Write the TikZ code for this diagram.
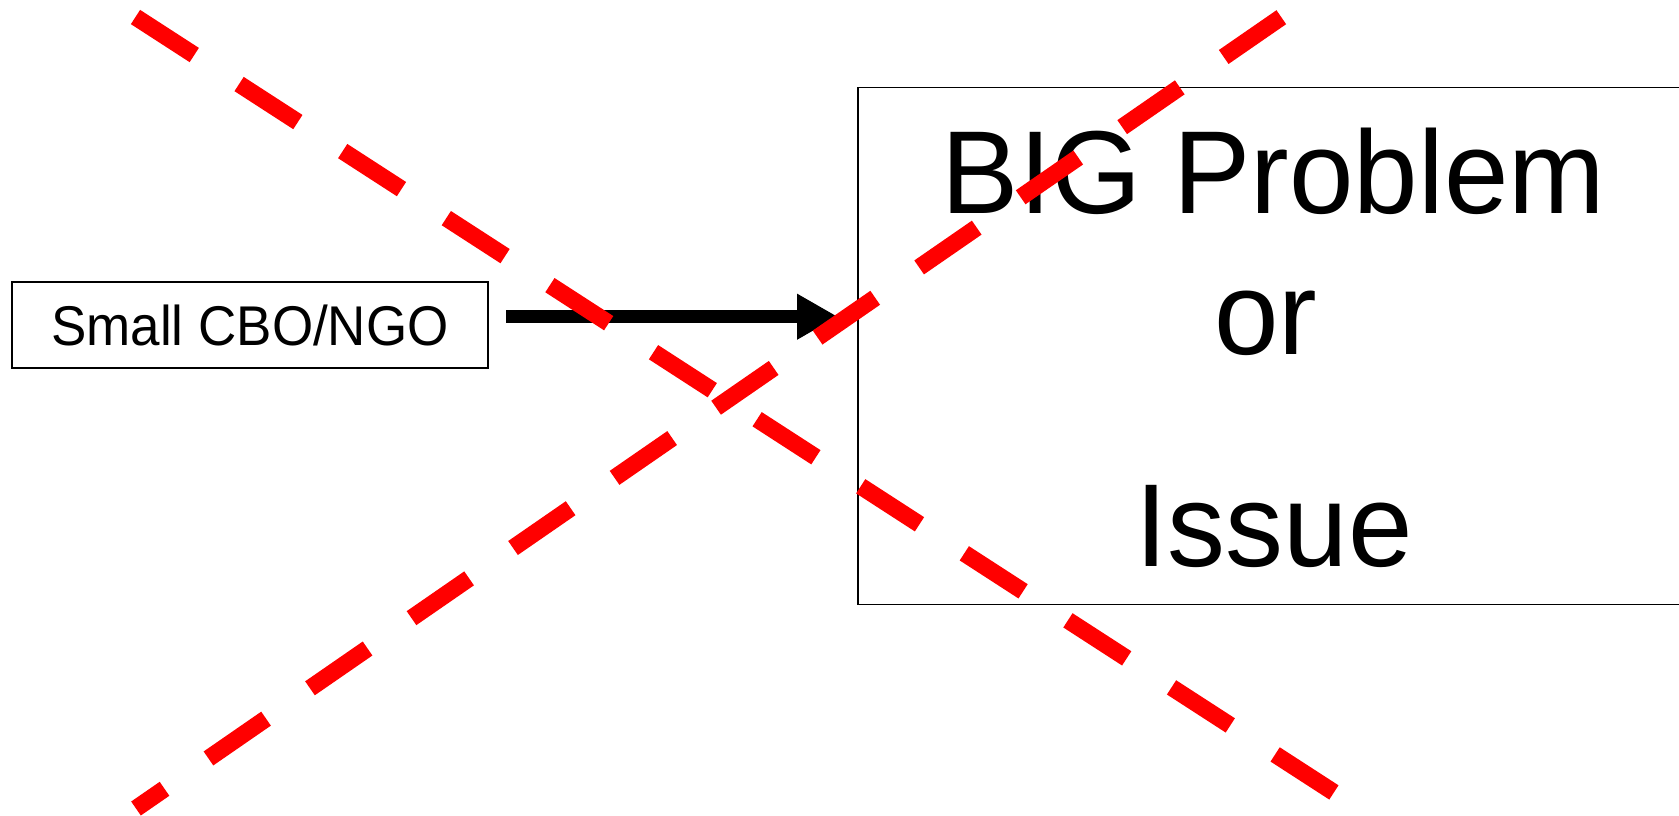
\documentclass[tikz,border=0pt]{standalone}
\usepackage{fontspec}
\usepackage{graphicx}
\setmainfont{Liberation Sans}
\usetikzlibrary{arrows.meta}
\begin{document}
\begin{tikzpicture}[x=1pt,y=-1pt,
  boxstyle/.style={draw=black, line width=1.6pt, inner sep=0pt, outer sep=0pt},
  cross/.style={draw=red, line width=17pt, dash pattern=on 70pt off 53.4pt, line cap=butt},
  bigtext/.style={font=\fontsize{118}{120}\selectfont, anchor=base, inner sep=0pt},
  flow/.style={draw=black, line width=13pt, -{Triangle[length=41pt,width=43pt]}, shorten <=18pt, shorten >=20pt},
]
\path[use as bounding box] (0,0) rectangle (1679,816);
\clip (0,0) rectangle (1679,816);
\node[boxstyle, anchor=north west, minimum width=476pt, minimum height=86pt,
      font=\fontsize{56}{60}\selectfont] (small) at (12,282) {\scalebox{0.946}[1]{Small CBO/NGO}};
\node[boxstyle, anchor=north west, minimum width=826pt, minimum height=517pt] (big) at (858,87.5) {};
\node[bigtext] (l1) at (1273.5,213.5) {\scalebox{0.982}[1]{BIG Problem}};
\node[bigtext] (l2) at (1266,354.5) {\scalebox{0.982}[1]{or}};
\node[bigtext] (l3) at (1274,566.5) {\scalebox{0.982}[1]{Issue}};
\draw[flow] (small.east |- 0,316.7) -- (big.west |- 0,316.7);
\coordinate (a1) at (135.5,17);
\coordinate (a2) at (1334,792.5);
\coordinate (b1) at (1281.3,17.2);
\coordinate (b2) at (136,808.5);
\draw[cross] (a1) -- (a2);
\draw[cross] (b1) -- (b2);
\end{tikzpicture}
\end{document}
